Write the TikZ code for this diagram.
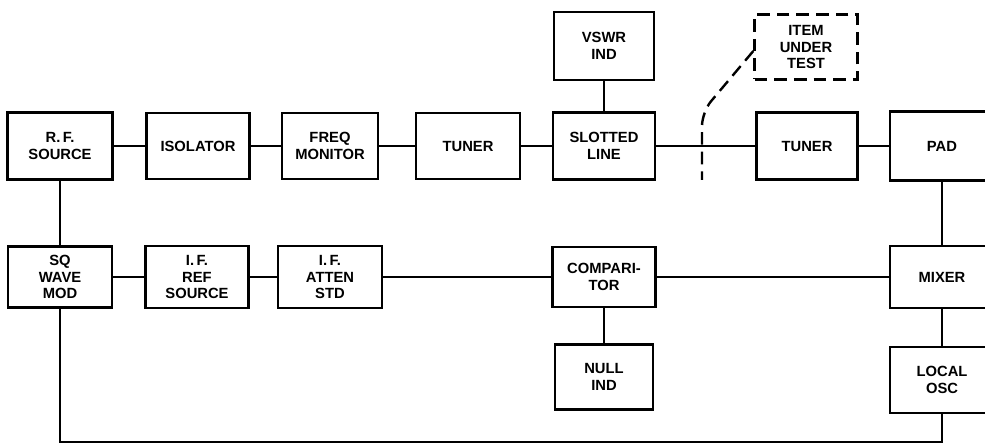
\documentclass[tikz,border=0pt]{standalone}
\usepackage{fontspec}
\setmainfont{Liberation Sans}
\usetikzlibrary{positioning}

\begin{document}
\begin{tikzpicture}[x=0.025cm,y=-0.025cm,
    blk/.style={draw,line width=1.7pt,minimum width=103*0.025cm,minimum height=66*0.025cm,
        align=center,inner sep=1pt,font=\fontsize{10.5}{12}\selectfont\bfseries},
    wire/.style={line width=1.7pt},
    cut/.style={line width=1.7pt,dash pattern=on 9pt off 5pt}]
    \useasboundingbox (0,0) rectangle (985,445);
    \clip (0,0) rectangle (985,445);

    % r.f. chain
    \node[blk,minimum width=105*0.025cm,minimum height=67*0.025cm] (rf) at (60,146) {R.\,F.\\SOURCE};
    \node[blk] (iso) at (198,146) {ISOLATOR};
    \node[blk,minimum width=96*0.025cm] (freq) at (330,146) {FREQ\\MONITOR};
    \node[blk,minimum width=104*0.025cm] (tun1) at (468,146) {TUNER};
    \node[blk,minimum width=102*0.025cm,minimum height=67*0.025cm] (slot) at (604,146) {SLOTTED\\LINE};
    \node[blk,minimum width=100*0.025cm,minimum height=68*0.025cm] (vswr) at (604,46) {VSWR\\IND};
    \node[blk,cut,minimum height=65*0.025cm] (item) at (806,47) {ITEM\\UNDER\\TEST};
    \node[blk,minimum width=101*0.025cm,minimum height=67*0.025cm] (tun2) at (807,146) {TUNER};
    \node[blk,minimum width=104*0.025cm,minimum height=69*0.025cm] (pad) at (942,146) {PAD};

    % i.f. chain
    \node[blk,minimum width=104*0.025cm,minimum height=61*0.025cm] (sq) at (60,277) {SQ\\WAVE\\MOD};
    \node[blk,minimum height=62*0.025cm] (ifref) at (197,277) {I.\,F.\\REF\\SOURCE};
    \node[blk,minimum width=104*0.025cm,minimum height=62*0.025cm] (atten) at (330,277) {I.\,F.\\ATTEN\\STD};
    \node[blk,minimum height=60*0.025cm] (comp) at (604,277) {COMPARI-\\TOR};
    \node[blk,minimum width=98*0.025cm,minimum height=65*0.025cm] (null) at (604,377) {NULL\\IND};
    \node[blk,minimum width=104*0.025cm,minimum height=62*0.025cm] (mix) at (942,277) {MIXER};
    \node[blk,minimum width=104*0.025cm,minimum height=66*0.025cm] (lo) at (942,380) {LOCAL\\OSC};

    \coordinate (bend) at (702,112);
    \coordinate (cutend) at (702,180);
    \coordinate (bot) at (500,442);

    \draw[wire] (rf) -- (iso);
    \draw[wire] (iso) -- (freq);
    \draw[wire] (freq) -- (tun1);
    \draw[wire] (tun1) -- (slot);
    \draw[wire] (slot) -- (tun2);
    \draw[wire] (tun2) -- (pad);
    \draw[wire] (vswr) -- (slot);
    \draw[wire] (pad) -- (mix);
    \draw[wire] (mix) -- (lo);
    \draw[wire] (rf) -- (sq);
    \draw[wire] (sq) -- (ifref);
    \draw[wire] (ifref) -- (atten);
    \draw[wire] (atten) -- (comp);
    \draw[wire] (comp) -- (mix);
    \draw[wire] (comp) -- (null);
    \draw[wire] (sq.south) |- (bot) -| (lo.south);

    \draw[cut,rounded corners=10pt] ([yshift=-0.1cm]item.west) -- (bend) -- (cutend);
\end{tikzpicture}
\end{document}
